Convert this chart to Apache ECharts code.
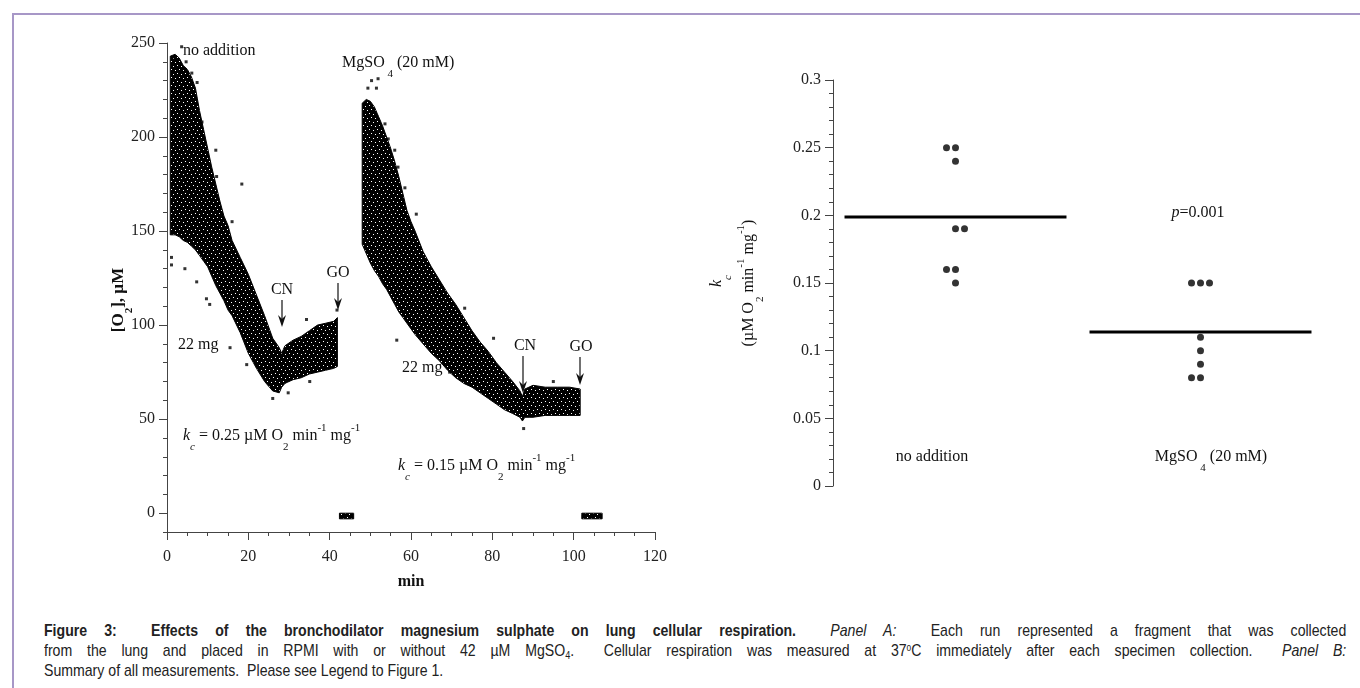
<!DOCTYPE html>
<html>
<head>
<meta charset="utf-8">
<script src="https://cdn.jsdelivr.net/npm/echarts@6/dist/echarts.min.js"></script>
<style>
  html, body { margin: 0; padding: 0; background: #fff; }
  #wrap { position: relative; width: 1360px; height: 688px; overflow: hidden; }
  #frame { position: absolute; left: 12px; top: 13px; width: 1400px; height: 700px; border: 2px solid #a797c7; }
  #chart { position: absolute; left: 0; top: 0; width: 1360px; height: 610px; }
  /* condensed caption: no narrow face installed, so squeeze a regular one */
  #caption { position: absolute; left: 44px; top: 621px; width: 1569px;
    transform: scaleX(0.83); transform-origin: 0 0;
    font-family: 'Liberation Sans', Arial, sans-serif;
    font-size: 17px; line-height: 20px; color: #222; }
  #caption div { white-space: nowrap; }
  #caption .j { text-align: justify; text-align-last: justify; }
  #caption sub { font-size: 11px; line-height: 0; vertical-align: -3px; }
  #caption sup { font-size: 10px; line-height: 0; vertical-align: 5px; }
</style>
</head>
<body>
<div id="wrap">
  <div id="frame"></div>
  <div id="chart"></div>
  <div id="caption">
    <div class="j"><b>Figure 3:&nbsp; Effects of the bronchodilator magnesium sulphate on lung cellular respiration.</b>&nbsp; <i>Panel A:</i>&nbsp; Each run represented a fragment that was collected</div>
    <div class="j">from the lung and placed in RPMI with or without 42 µM MgSO<sub>4</sub>.&nbsp; Cellular respiration was measured at 37<sup>o</sup>C immediately after each specimen collection.&nbsp; <i>Panel B:</i></div>
    <div>Summary of all measurements.&nbsp; Please see Legend to Figure 1.</div>
  </div>
</div>
<script>
// ---- panel A: O2 trace, upper / lower edge of the point cloud (min, µM) ----
const run1Time  = [0.8, 2, 3, 4, 5, 6, 7, 8, 9, 10, 11, 12, 13, 14, 15, 16, 18, 20, 22, 24, 26, 27.6, 28.2, 29, 31, 33, 35, 37, 39, 41, 41.9];
const run1Upper = [243, 244, 242, 238, 236, 232, 226, 214, 204, 194, 184, 175, 166, 158, 153, 145, 136, 127, 116, 105, 93, 88, 85, 89, 92, 94, 97, 100, 101, 102, 104];
const run1Lower = [148, 148, 147, 145, 144, 142, 140, 137, 134, 131, 126, 121, 117, 113, 108, 105, 96, 85, 77, 70, 65, 64, 67, 69, 71, 72, 74, 75, 76, 77, 78];

const run2Time  = [48.0, 49, 50, 51, 52, 53, 54, 55, 56, 57, 58, 59, 60, 61, 63, 65, 67, 69, 71, 73, 75, 77, 79, 81, 83, 85, 86.8, 87.4, 88, 90, 93, 96, 99, 101.6];
const run2Upper = [218, 220, 219, 216, 211, 206, 200, 194, 187, 179, 170, 161, 155, 150, 139, 131, 124, 117, 111, 104, 97, 91, 86, 80, 75, 70, 65, 62, 66, 68, 67, 67, 67, 66];
const run2Lower = [143, 138, 133, 129, 126, 122, 119, 115, 111, 107, 104, 101, 98, 95, 90, 85, 81, 76, 72, 69, 67, 64, 61, 58, 55, 53, 51, 49, 51, 51, 52, 52, 52, 52];

// electrode zero after GO
const off1Time  = [42.4, 45.9];
const off1Upper = [0, 0];
const off1Lower = [-3, -3];
const off2Time  = [102.0, 107.0];
const off2Upper = [0, 0];
const off2Lower = [-3, -3];

// isolated points outside the dense cloud
const run1Stray = [[3.6, 248], [4.7, 240], [1.7, 241], [6.1, 234], [7.4, 229], [8.6, 208], [12, 193], [12.2, 179],
  [18.4, 175], [16, 155], [1.1, 136], [1.1, 132], [4.4, 130], [7.3, 123], [9.7, 114], [10.5, 111], [15.5, 88],
  [19.6, 79], [26, 61], [29.8, 64], [34.3, 103], [35.1, 70], [41.8, 108]];
const run2Stray = [[50.3, 230], [51.9, 231], [49.4, 226], [51.5, 226], [53.6, 207], [54.4, 199], [56, 193], [56.8, 184],
  [58.5, 173], [61.3, 159], [56.5, 92], [80.3, 93], [73.2, 109], [69.5, 75], [95, 70], [87.7, 45]];

const yTicksA = [0, 50, 100, 150, 200, 250];

// ---- panel B: kc per run ----
const groups = ['no addition', 'MgSO4 (20 mM)'];
const noAddK = [0.25, 0.25, 0.24, 0.19, 0.19, 0.16, 0.16, 0.15];
const mgK    = [0.15, 0.15, 0.15, 0.11, 0.10, 0.09, 0.08, 0.08];
// side-by-side slot of tied dots
const noAddSlot = [-1, 0, 0, 0, 1, -1, 0, 0];
const mgSlot    = [-1, 0, 1, 0, 0, 0, -1, 0];

const mean = a => a.reduce((s, v) => s + v, 0) / a.length;

const serif = "'Liberation Serif', 'Times New Roman', serif";
const ink = '#111';

// speckled fill for the dense point cloud
const tile = document.createElement('canvas');
tile.width = 8; tile.height = 8;
const tg = tile.getContext('2d');
tg.fillStyle = '#000';
tg.fillRect(0, 0, 8, 8);
tg.fillStyle = '#fff';
[[1, 1], [5, 2], [3, 5], [7, 6]].forEach(p => tg.fillRect(p[0], p[1], 1, 1));
const speckle = { image: tile, repeat: 'repeat' };

function rich(size, weight) {
  const base = { fontFamily: serif, fontSize: size, fontWeight: weight || 'normal', color: ink, verticalAlign: 'top' };
  return {
    n:   Object.assign({}, base, { lineHeight: 18, padding: [6, 0, 0, 0] }),
    i:   Object.assign({}, base, { lineHeight: 18, padding: [6, 0, 0, 0], fontStyle: 'italic' }),
    sb:  Object.assign({}, base, { fontSize: 11, lineHeight: 11, padding: [20, 0, 0, 0] }),
    sbi: Object.assign({}, base, { fontSize: 11, lineHeight: 11, padding: [20, 0, 0, 0], fontStyle: 'italic' }),
    sp:  Object.assign({}, base, { fontSize: 11, lineHeight: 11, padding: [1, 0, 0, 0] })
  };
}
const RICH = rich(16);
const RICHB = rich(17, 'bold');

function txt(x, y, text, o) {
  o = o || {};
  // rich blocks sit ~5px low against plain text: pull them back
  if (text.indexOf('{') >= 0) {
    if (o.rot) x -= 5; else y -= 5;
  }
  return {
    type: 'text', x: x, y: y, rotation: o.rot || 0, silent: true,
    style: {
      text: text, rich: o.bold ? RICHB : RICH,
      fontFamily: serif, fontSize: 16, fontWeight: o.bold ? 'bold' : 'normal', fill: ink,
      align: o.align || 'left', verticalAlign: 'middle',
      textAlign: o.align || 'left', textVerticalAlign: 'middle'
    }
  };
}

function arrow(x, y1, y2) {
  return [
    { type: 'line', silent: true, shape: { x1: x, y1: y1, x2: x, y2: y2 - 4 }, style: { stroke: ink, lineWidth: 1.2 } },
    { type: 'polygon', silent: true, shape: { points: [[x, y2], [x - 4, y2 - 12], [x, y2 - 8], [x + 4, y2 - 12]] }, style: { fill: ink } }
  ];
}

const bands = [
  { time: run1Time, upper: run1Upper, lower: run1Lower },
  { time: run2Time, upper: run2Upper, lower: run2Lower },
  { time: off1Time, upper: off1Upper, lower: off1Lower },
  { time: off2Time, upper: off2Upper, lower: off2Lower }
];

const bandSeries = bands.map(b => ({
  type: 'custom', xAxisIndex: 0, yAxisIndex: 0, silent: true,
  data: b.time.map((t, i) => [t, b.lower[i], b.upper[i]]),
  encode: { x: 0, y: [1, 2] },
  renderItem: function (params, api) {
    if (params.dataIndex !== 0) return null;
    const pts = b.time.map((t, i) => api.coord([t, b.upper[i]]));
    for (let i = b.time.length - 1; i >= 0; i--) pts.push(api.coord([b.time[i], b.lower[i]]));
    return { type: 'polygon', shape: { points: pts }, style: { fill: speckle, stroke: '#000', lineWidth: 1 } };
  }
}));

const axisLine = { show: true, onZero: false, lineStyle: { color: '#444', width: 1 } };
const tickLabel = { color: '#222', fontFamily: serif, fontSize: 16 };

const option = {
  animation: false,
  grid: [
    { left: 167, top: 43, width: 488, height: 489 },
    { left: 833, top: 80, width: 490, height: 406 }
  ],
  xAxis: [
    {
      type: 'value', gridIndex: 0, min: 0, max: 120, interval: 20,
      axisLine: axisLine,
      axisTick: { show: true, length: 8, lineStyle: { color: '#444' } },
      minorTick: { show: true, splitNumber: 4, length: 4, lineStyle: { color: '#444' } },
      splitLine: { show: false },
      axisLabel: Object.assign({ margin: 17 }, tickLabel),
      name: 'min', nameLocation: 'middle', nameGap: 42,
      nameTextStyle: { fontFamily: serif, fontSize: 16, fontWeight: 'bold', color: ink }
    },
    {
      type: 'category', gridIndex: 1, data: groups,
      axisLine: { show: false }, axisTick: { show: false }, axisLabel: { show: false }
    }
  ],
  yAxis: [
    {
      type: 'value', gridIndex: 0, position: 'left', min: -10, max: 250,
      axisLine: axisLine,
      axisTick: { show: true, length: 8, customValues: yTicksA, lineStyle: { color: '#444' } },
      axisLabel: Object.assign({ margin: 12, customValues: yTicksA }, tickLabel),
      splitLine: { show: false }
    },
    {
      type: 'value', gridIndex: 0, position: 'left', min: -10, max: 250, interval: 10,
      axisLine: { show: false },
      axisTick: { show: true, length: 4, lineStyle: { color: '#444' } },
      axisLabel: { show: false },
      splitLine: { show: false }
    },
    {
      type: 'value', gridIndex: 1, position: 'left', min: 0, max: 0.3, interval: 0.05,
      axisLine: axisLine,
      axisTick: { show: true, length: 8, lineStyle: { color: '#444' } },
      minorTick: { show: true, splitNumber: 5, length: 4, lineStyle: { color: '#444' } },
      axisLabel: Object.assign({ margin: 12 }, tickLabel),
      splitLine: { show: false }
    }
  ],
  series: bandSeries.concat([
    {
      type: 'scatter', xAxisIndex: 0, yAxisIndex: 0, silent: true,
      symbol: 'rect', symbolSize: 3, itemStyle: { color: '#000' },
      data: run1Stray.concat(run2Stray)
    },
    {
      type: 'scatter', xAxisIndex: 1, yAxisIndex: 2, silent: true,
      symbol: 'circle', symbolSize: 7, itemStyle: { color: '#000' },
      data: noAddK.map((v, i) => ({ value: [0, v], symbolOffset: [noAddSlot[i] * 9, 0] }))
        .concat(mgK.map((v, i) => ({ value: [1, v], symbolOffset: [mgSlot[i] * 9, 0] })))
    },
    {
      type: 'custom', xAxisIndex: 1, yAxisIndex: 2, silent: true,
      data: [[0, mean(noAddK)], [1, mean(mgK)]],
      renderItem: function (params, api) {
        const c = api.coord([api.value(0), api.value(1)]);
        const w = api.size([1, 0])[0] * 0.453;
        return { type: 'line', shape: { x1: c[0] - w, y1: c[1], x2: c[0] + w, y2: c[1] }, style: { stroke: '#000', lineWidth: 3 } };
      }
    }
  ]),
  graphic: [
    txt(183, 51, 'no addition'),
    txt(342, 63, '{n|MgSO}{sb| 4}{n| (20 mM)}'),
    txt(282, 290, 'CN', { align: 'center' }),
    txt(338, 273, 'GO', { align: 'center' }),
    txt(525, 346, 'CN', { align: 'center' }),
    txt(581, 347, 'GO', { align: 'center' }),
    txt(178, 345, '22 mg'),
    txt(402, 368, '22 mg'),
    txt(183, 436, '{i|k}{sbi|c}{n| = 0.25 µM O}{sb|2}{n| min}{sp|-1}{n| mg}{sp|-1}'),
    txt(398, 466, '{i|k}{sbi|c}{n| = 0.15 µM O}{sb|2}{n| min}{sp|-1}{n| mg}{sp|-1}'),
    txt(118, 300, '{n|[O}{sb|2}{n|], µM}', { bold: true, align: 'center', rot: Math.PI / 2 }),
    txt(717, 281, '{i|k}{sbi|c}', { align: 'center', rot: Math.PI / 2 }),
    txt(749, 283, '{n|(µM O}{sb|2}{n| min}{sp|-1}{n| mg}{sp|-1}{n|)}', { align: 'center', rot: Math.PI / 2 }),
    txt(1198, 213, '{i|p}{n|=0.001}', { align: 'center' }),
    txt(932, 457, 'no addition', { align: 'center' }),
    txt(1211, 457, '{n|MgSO}{sb| 4}{n| (20 mM)}', { align: 'center' })
  ].concat(arrow(282, 300, 327), arrow(338, 283, 310), arrow(523, 356, 393), arrow(580, 357, 385))
};

const chart = echarts.init(document.getElementById('chart'));
chart.setOption(option);
</script>
</body>
</html>
